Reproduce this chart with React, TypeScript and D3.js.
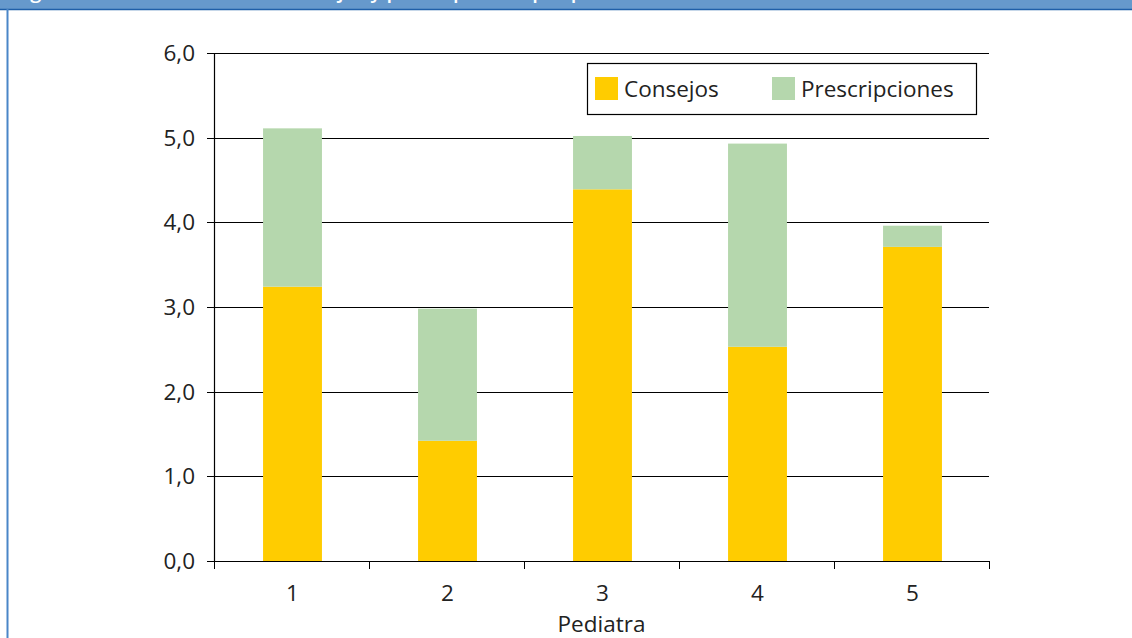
import React, { useEffect, useRef } from 'react';
import * as d3 from 'd3';

// Chart data
const pediatras = ['1', '2', '3', '4', '5'];
const consejos = [3.24, 1.42, 4.39, 2.53, 3.71];
const prescripciones = [1.87, 1.56, 0.63, 2.40, 0.25];
const yTicks = [0, 1, 2, 3, 4, 5, 6];
const seriesNames = ['Consejos', 'Prescripciones'];
const seriesColors = ['#FFCC00', '#B5D7AD'];

const W = 1132;
const H = 638;
const FONT = '"Open Sans", "Noto Sans", sans-serif';
const FS = 22.5;

const App: React.FC = () => {
  const svgRef = useRef<SVGSVGElement>(null);

  useEffect(() => {
    if (!svgRef.current) return;
    const svg = d3.select(svgRef.current);
    svg.selectAll('*').remove();

    const left = 214, right = 989, top = 53, bottom = 561;

    // frame: header band and left border
    svg.append('rect').attr('x', 0).attr('y', 0).attr('width', W).attr('height', 9).attr('fill', '#6699CC');
    svg.append('line').attr('x1', 0).attr('x2', W).attr('y1', 9.5).attr('y2', 9.5)
      .attr('stroke', '#1F5FA8').attr('stroke-width', 1.5);
    svg.append('line').attr('x1', 7.5).attr('x2', 7.5).attr('y1', 9).attr('y2', H)
      .attr('stroke', '#4A86C8').attr('stroke-width', 2);
    svg.append('text').attr('x', 14).attr('y', -2).attr('fill', '#fff')
      .attr('font-family', FONT).attr('font-size', 20).attr('font-weight', 600)
      .text('Figura 2. Número medio de consejos y prescripciones por pediatra');

    const x = d3.scaleBand<string>().domain(pediatras).range([left, right]).paddingInner(0.62).paddingOuter(0.31);
    const y = d3.scaleLinear().domain([0, 6]).range([bottom, top]);

    // gridlines
    svg.append('g').selectAll('line').data(yTicks.slice(1)).join('line')
      .attr('x1', left).attr('x2', right)
      .attr('y1', d => Math.round(y(d)) + 0.5).attr('y2', d => Math.round(y(d)) + 0.5)
      .attr('stroke', '#000').attr('stroke-width', 1);

    // stacked bars
    const rows = pediatras.map((p, i) => ({ p, Consejos: consejos[i], Prescripciones: prescripciones[i] }));
    const stack = d3.stack<any>().keys(seriesNames)(rows);
    stack.forEach((layer, si) => {
      svg.append('g').selectAll('rect').data(layer).join('rect')
        .attr('x', d => x(d.data.p)! + 1)
        .attr('width', x.bandwidth())
        .attr('y', d => y(d[1]))
        .attr('height', d => y(d[0]) - y(d[1]))
        .attr('fill', seriesColors[si]);
    });

    // y axis
    svg.append('line').attr('x1', left + 0.5).attr('x2', left + 0.5).attr('y1', top).attr('y2', bottom)
      .attr('stroke', '#000').attr('stroke-width', 1.2);
    const yt = svg.append('g');
    yt.selectAll('line').data(yTicks).join('line')
      .attr('x1', left - 7).attr('x2', left)
      .attr('y1', d => Math.round(y(d)) + 0.5).attr('y2', d => Math.round(y(d)) + 0.5)
      .attr('stroke', '#000');
    yt.selectAll('text').data(yTicks).join('text')
      .attr('x', 195).attr('y', d => y(d)).attr('dy', '0.35em')
      .attr('text-anchor', 'end').attr('font-family', FONT).attr('font-size', FS).attr('fill', '#222')
      .text(d => d3.format('.1f')(d).replace('.', ','));

    // x axis
    svg.append('line').attr('x1', left).attr('x2', right).attr('y1', bottom + 0.5).attr('y2', bottom + 0.5)
      .attr('stroke', '#000').attr('stroke-width', 1.2);
    const bounds = pediatras.map(p => x(p)! - (x.step() - x.bandwidth()) / 2).concat([right]);
    svg.append('g').selectAll('line').data(bounds).join('line')
      .attr('x1', d => Math.round(d) + 0.5).attr('x2', d => Math.round(d) + 0.5)
      .attr('y1', bottom).attr('y2', bottom + 8)
      .attr('stroke', '#000');
    svg.append('g').selectAll('text').data(pediatras).join('text')
      .attr('x', d => x(d)! + x.bandwidth() / 2 + 1).attr('y', 601)
      .attr('text-anchor', 'middle').attr('font-family', FONT).attr('font-size', FS).attr('fill', '#222')
      .text(d => d);
    svg.append('text').attr('x', (left + right) / 2).attr('y', 632)
      .attr('text-anchor', 'middle').attr('font-family', FONT).attr('font-size', FS).attr('fill', '#222')
      .text('Pediatra');

    // legend
    const lg = svg.append('g');
    lg.append('rect').attr('x', 587.5).attr('y', 63.5).attr('width', 389).attr('height', 51)
      .attr('fill', '#fff').attr('stroke', '#000').attr('stroke-width', 1.2);
    const lx = [595, 772];
    seriesNames.forEach((n, i) => {
      lg.append('rect').attr('x', lx[i]).attr('y', 77).attr('width', 23).attr('height', 23).attr('fill', seriesColors[i]);
      lg.append('text').attr('x', lx[i] + 29).attr('y', 89).attr('dy', '0.35em')
        .attr('font-family', FONT).attr('font-size', FS).attr('fill', '#222').text(n);
    });
  }, []);

  return (
    <svg ref={svgRef} width={W} height={H} viewBox={`0 0 ${W} ${H}`}
      style={{ position: 'absolute', left: 0, top: 0, background: '#fff' }} />
  );
};

export default App;
